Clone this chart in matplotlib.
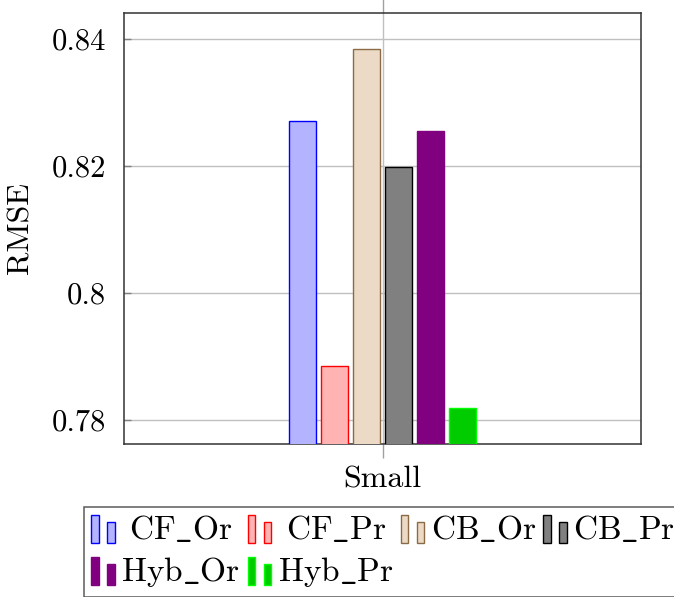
import matplotlib.pyplot as plt
from matplotlib.legend_handler import HandlerBase
from matplotlib.patches import Rectangle

plt.rcParams["font.family"] = ["cmr10", "DejaVu Serif"]
plt.rcParams["mathtext.fontset"] = "cm"
plt.rcParams["axes.formatter.use_mathtext"] = True

CATEGORY = "Small"
SERIES = ["CF_Or", "CF_Pr", "CB_Or", "CB_Pr", "Hyb_Or", "Hyb_Pr"]
RMSE = [0.8271, 0.7885, 0.8384, 0.8198, 0.8255, 0.7818]
FILLS = ["#b3b3ff", "#ffb3b3", "#ecd9c6", "#808080", "#800080", "#00cc00"]
EDGES = ["#0000ff", "#ff0000", "#8b6b45", "#000000", "#800080", "#00ff00"]
YTICKS = [0.78, 0.80, 0.82, 0.84]
YTICK_LABELS = ["0.78", "0.8", "0.82", "0.84"]


class TwoBarHandler(HandlerBase):
    # pgfplots style ybar legend: two small bars
    def create_artists(self, legend, orig_handle, xdescent, ydescent,
                       width, height, fontsize, trans):
        fc = orig_handle.get_facecolor()
        ec = orig_handle.get_edgecolor()
        w = 0.23 * fontsize
        y0 = -ydescent - 0.12 * fontsize
        r1 = Rectangle((-xdescent, y0), w, 0.84 * fontsize,
                       facecolor=fc, edgecolor=ec, lw=1, transform=trans)
        r2 = Rectangle((-xdescent + 0.48 * fontsize, y0), w, 0.63 * fontsize,
                       facecolor=fc, edgecolor=ec, lw=1, transform=trans)
        return [r1, r2]


def tex(name):
    s = r"$\mathrm{" + name.replace("_", r"\_") + "}$"
    if name.startswith("CF"):
        s = r"$\;$" + s
    return s


fig = plt.figure(figsize=(6.74, 5.97), dpi=100)
ax = fig.add_axes([124 / 674, 1 - 444 / 597, 517 / 674, 431 / 597])

width = 0.104
step = 0.124
bars = []
for i, (name, val) in enumerate(zip(SERIES, RMSE)):
    b = ax.bar((i - 2.5) * step, val, width, bottom=0,
               color=FILLS[i], edgecolor=EDGES[i], linewidth=1, label=name, zorder=3)
    bars.append(b[0])

ax.set_xlim(-1, 1)
ax.set_ylim(0.7762, 0.8441)
ax.set_xticks([0])
ax.set_xticklabels([CATEGORY], fontsize=23)
ax.set_yticks(YTICKS)
ax.set_yticklabels(YTICK_LABELS, fontsize=22)
ax.set_ylabel("RMSE", fontsize=23, labelpad=12)

ax.grid(True, color="#c0c0c0", linewidth=1, zorder=0)
ax.set_axisbelow(True)
ax.tick_params(axis="x", direction="out", length=10, width=1, color="#a0a0a0",
               top=True, bottom=True, pad=6)
ax.tick_params(axis="y", direction="in", length=5, width=1, color="#808080",
               left=True, right=False, pad=13)
for s in ax.spines.values():
    s.set_linewidth(1.1)
    s.set_color("#333333")

# row-wise legend order like pgfplots
order = [0, 4, 1, 5, 2, 3]
leg = fig.legend([bars[k] for k in order], [tex(SERIES[k]) for k in order],
                 handler_map={Rectangle: TwoBarHandler()},
                 loc="upper left", bbox_to_anchor=(84 / 674, 1 - 507 / 597),
                 ncol=4, fontsize=24, frameon=True, fancybox=False,
                 edgecolor="#333333", handlelength=0.72, handletextpad=0.18,
                 columnspacing=0.23, borderpad=0.22, labelspacing=0.3, borderaxespad=0)
leg.get_frame().set_linewidth(1.1)

fig.savefig("out.png", dpi=100)
